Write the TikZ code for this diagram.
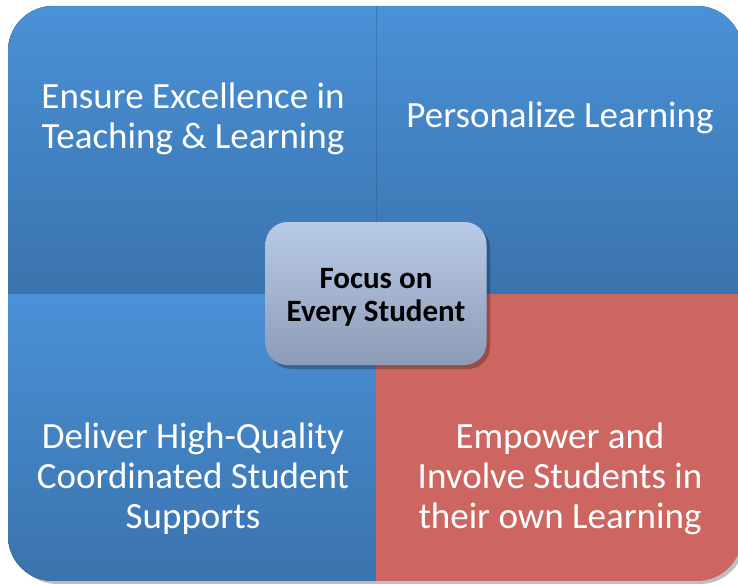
\documentclass[tikz,border=0pt]{standalone}
\usepackage{fontspec}
\setmainfont{Carlito}
\usepackage{tikz}
\usetikzlibrary{positioning}
\definecolor{quadtop}{HTML}{4A91D7}
\definecolor{quadbot}{HTML}{3A73AD}
\definecolor{quadred}{HTML}{CD6660}
\definecolor{focustop}{HTML}{B9CAE7}
\definecolor{focusbot}{HTML}{8C9CB7}
\tikzset{
  quadfill/.style={
    top color=quadtop,
    bottom color=quadbot,
    draw=none
  },
  quadtext/.style={
    text=white,
    align=center,
    font=\fontsize{37}{40}\selectfont
  },
  focusbox/.style={
    rectangle,
    rounded corners=22pt,
    top color=focustop,
    bottom color=focusbot,
    draw=none,
    minimum width=221pt,
    minimum height=143pt
  },
  focustext/.style={
    align=center,
    font=\bfseries\fontsize{31}{33}\selectfont
  }
}

\begin{document}
\begin{tikzpicture}[x=1pt, y=-1pt]
  \useasboundingbox (0,0) rectangle (738,583);
  \clip (0,0) rectangle (738,583);
  \fill[white] (0,0) rectangle (738,583);

  % shadow of the whole square
  \fill[black, opacity=0.25, rounded corners=45pt] (12,10) rectangle (745,584);

  \begin{scope}
    \clip[rounded corners=45pt] (8,6) rectangle (742,581);
    \fill[quadfill] (8,6) rectangle (376,294);
    \fill[quadfill] (376,6) rectangle (742,294);
    \fill[quadfill] (8,294) rectangle (376,581);
    \fill[quadred] (376,294) rectangle (742,581);
    \draw[quadbot!85!black, line width=0.6pt, opacity=0.5] (376,6) -- (376,294);
  \end{scope}

  \node[quadtext] (teach) at (193,119) {Ensure Excellence in\\Teaching \& Learning};
  \node[quadtext] (person) at (560,118) {Personalize Learning};
  \node[quadtext] (deliver) at (193,479) {Deliver High-Quality\\Coordinated Student\\Supports};
  \node[quadtext] (empower) at (560,479) {Empower and\\Involve Students in\\their own Learning};

  \fill[black, opacity=0.25, rounded corners=22pt] (269,226) rectangle (490,369);
  \node[focusbox] (focus) at (376,293.5) {};
  \node[focustext] (focuslabel) at ([yshift=-4pt]focus.center) {Focus on\\Every Student};
\end{tikzpicture}
\end{document}
